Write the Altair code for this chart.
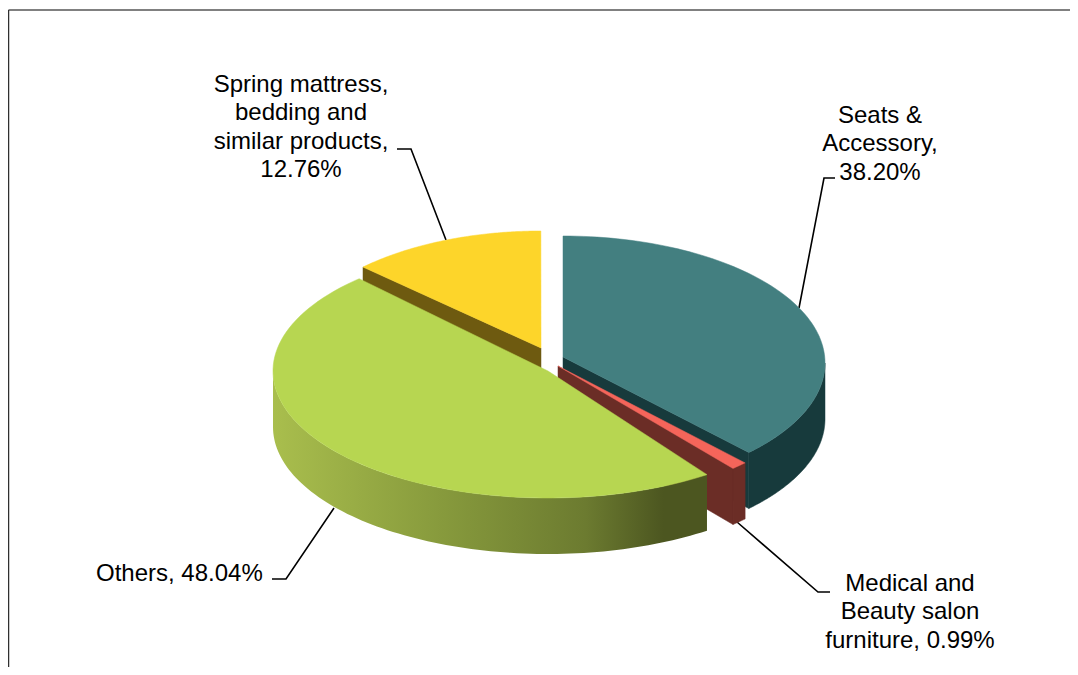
import math
import altair as alt

# ---- data ----
categories = ["Seats & Accessory", "Medical and Beauty salon furniture", "Others",
              "Spring mattress, bedding and similar products"]
shares = [38.20, 0.99, 48.04, 12.76]
label_lines = [["Seats &", "Accessory,", "38.20%"],
               ["Medical and", "Beauty salon", "furniture, 0.99%"],
               ["Others, 48.04%"],
               ["Spring mattress,", "bedding and", "similar products,", "12.76%"]]

# ---- styling and layout of the 3-D view (page pixels) ----
W, H = 1062, 659
OFF = 8
DEPTH = 56
top_colors = ["#437f80", "#f5655a", "#b7d651", "#fdd52a"]
cut_colors = ["#173a3c", "#6b2d26", "#4c5620", "#6e5a10"]
views = [
    dict(apex=(563, 357), c=(563, 363), a=262, b=127, d0=0.0, d1=-2.7),
    dict(apex=(558, 366), c=(558, 374), a=262, b=127, d0=-3.1, d1=-3.0),
    dict(apex=(548, 371), c=(548, 371), a=275, b=127, d0=3.6, d1=2.6),
    dict(apex=(541, 348), c=(541, 358), a=255, b=127, d0=1.7, d1=0.0),
]
label_pos = [(880, 116, "center"), (910, 584, "center"), (96, 574, "left"), (301, 85, "center")]
LINE_STEP = 28.4
FONT_SIZE = 24
leaders = [[(835, 178), (824, 178), (799, 308)],
           [(830, 592), (818, 592), (737, 522)],
           [(272, 579), (286, 579), (334, 508)],
           [(397, 149), (411, 149), (446, 240)]]
others_wall_stops = [(0.0, "#a9be4d"), (0.4, "#86993c"), (0.72, "#6c7b30"), (0.9, "#4c5620"), (1.0, "#4c5620")]


def px(p, dy=0):
    return [p[0] - OFF, p[1] - OFF + dy]


def arc(v, t0, t1, n=90):
    pts = []
    for i in range(n + 1):
        t = math.radians(t0 + (t1 - t0) * i / n)
        pts.append((v["c"][0] + v["a"] * math.sin(t), v["c"][1] - v["b"] * math.cos(t)))
    return pts


def polygon(points):
    ring = list(points) + [points[0]]
    return {"type": "Feature", "properties": {}, "geometry": {"type": "Polygon", "coordinates": [ring]}}


def line(points):
    return {"type": "Feature", "properties": {}, "geometry": {"type": "LineString", "coordinates": points}}


def geo(feature, **mark):
    return alt.Chart(alt.Data(values=[feature])).mark_geoshape(**mark).project(
        type="identity", scale=1, translate=[0, 0])


def flat(feature, color):
    return geo(feature, fill=color, stroke=color, strokeWidth=0.5)


def extrude(points):
    return polygon([px(p) for p in points] + [px(p, DEPTH) for p in reversed(points)])


# slice angles follow the shares, clockwise from 12 o'clock
angles = []
start = 0.0
for s in shares:
    end = start + s * 3.6
    angles.append((start, end))
    start = end

ranges = [(angles[i][0] + v["d0"], angles[i][1] + v["d1"]) for i, v in enumerate(views)]
tops = [polygon([px(v["apex"])] + [px(p) for p in arc(v, *ranges[i])]) for i, v in enumerate(views)]


def cut_wall(i, t):
    v = views[i]
    return extrude([v["apex"], arc(v, t, t, 1)[0]])


layers = []
# frame
layers.append(geo(line([[0.5, 2], [W, 2]]), filled=False, stroke="#808080", strokeWidth=2))
layers.append(geo(line([[0.5, 2], [0.5, H]]), filled=False, stroke="#303030", strokeWidth=1.5))
# leader lines
for pts in leaders:
    layers.append(geo(line([px(p) for p in pts]), filled=False, stroke="#000000", strokeWidth=1.6))

# spring mattress
layers.append(flat(cut_wall(3, ranges[3][0]), cut_colors[3]))
layers.append(flat(tops[3], top_colors[3]))
# seats
layers.append(flat(cut_wall(0, ranges[0][1]), cut_colors[0]))
layers.append(flat(extrude(arc(views[0], 90, ranges[0][1])), cut_colors[0]))
layers.append(flat(tops[0], top_colors[0]))
# medical
layers.append(flat(cut_wall(1, ranges[1][1]), cut_colors[1]))
layers.append(flat(extrude(arc(views[1], ranges[1][0], ranges[1][1], 6)), cut_colors[1]))
layers.append(flat(tops[1], top_colors[1]))
# others
layers.append(geo(extrude(arc(views[2], ranges[2][0], 270)),
                  fill=alt.Gradient(gradient="linear", x1=0, x2=1, y1=0, y2=0,
                                    stops=[alt.GradientStop(offset=o, color=c) for o, c in others_wall_stops])))
layers.append(flat(tops[2], top_colors[2]))

# labels
for i, lines in enumerate(label_lines):
    x0, y0, align = label_pos[i]
    rows = [{"x": x0 - OFF, "y": y0 - OFF + k * LINE_STEP, "t": t} for k, t in enumerate(lines)]
    layers.append(alt.Chart(alt.Data(values=rows)).mark_text(
        font="Liberation Sans", fontSize=FONT_SIZE, color="#000000", align=align, baseline="middle"
    ).encode(
        x=alt.X("x:Q", scale=alt.Scale(domain=[0, W]), axis=None),
        y=alt.Y("y:Q", scale=alt.Scale(domain=[H, 0]), axis=None),
        text="t:N",
    ))

chart = alt.layer(*layers).properties(
    width=W, height=H, padding=0, background="#ffffff",
    autosize=alt.AutoSizeParams(type="none"),
).configure_view(strokeWidth=0)

chart.save("out.html", embed_options={"renderer": "svg", "actions": False})
